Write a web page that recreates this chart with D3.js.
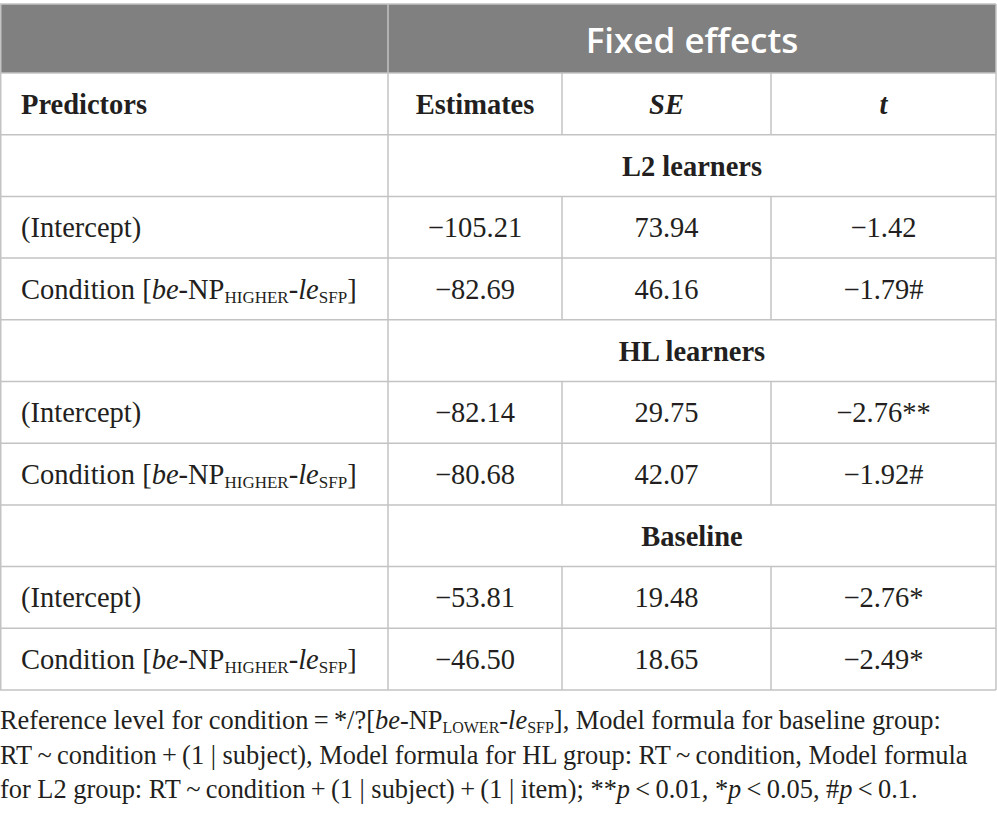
<!DOCTYPE html>
<html>
<head>
<meta charset="utf-8">
<script src="https://cdn.jsdelivr.net/npm/d3@7"></script>
<style>
  body { margin: 0; background: #fff; }
  svg { display: block; }
</style>
</head>
<body>
<svg id="chart" width="997" height="820"></svg>
<script>
// table content
const groups = ["L2 learners", "HL learners", "Baseline"];
const predictors = ["(Intercept)", "Condition"];
const estimates = [[-105.21, -82.69], [-82.14, -80.68], [-53.81, -46.50]];
const seValues = [[73.94, 46.16], [29.75, 42.07], [19.48, 18.65]];
const tValues = [[-1.42, -1.79], [-2.76, -1.92], [-2.76, -2.49]];
const tMarks = [["", "#"], ["**", "#"], ["*", "*"]];
const columnHeads = ["Predictors", "Estimates", "SE", "t"];
const headItalic = [false, false, true, true];
const spanTitle = "Fixed effects";

const conditionLabel = [
    { t: "Condition [" }, { t: "be", i: true }, { t: "-NP" }, { t: "HIGHER", sub: true },
    { t: "-" }, { t: "le", i: true }, { t: "SFP", sub: true }, { t: "]" }
];

const noteLines = [
    [{ t: "Reference level for condition\u2009=\u2009*/?[" }, { t: "be", i: true }, { t: "-NP" },
     { t: "LOWER", sub: true }, { t: "-" }, { t: "le", i: true }, { t: "SFP", sub: true },
     { t: "], Model formula for baseline group:" }],
    [{ t: "RT\u2009~\u2009condition\u2009+\u2009(1 | subject), Model formula for HL group: RT\u2009~\u2009condition, Model formula" }],
    [{ t: "for L2 group: RT\u2009~\u2009condition\u2009+\u2009(1 | subject)\u2009+\u2009(1 | item); **" }, { t: "p", i: true },
     { t: "\u2009<\u20090.01, *" }, { t: "p", i: true }, { t: "\u2009<\u20090.05, #" }, { t: "p", i: true },
     { t: "\u2009<\u20090.1." }]
];

const colEdges = [0, 388, 562, 771, 996];

const svg = d3.select("#chart");
const serif = "'Liberation Serif', 'Times New Roman', serif";
const ink = "#231f20";
const lineColor = "#c3c3c3";

// rows: 0 = title band, 1 = column heads, then group / predictor rows
let rows = [{ type: "title" }, { type: "heads" }];
groups.forEach((g, gi) => {
    rows.push({ type: "group", label: g });
    predictors.forEach((p, pi) => rows.push({ type: "data", gi: gi, pi: pi }));
});

const topY = 4, headBottom = 73, tableBottom = 690;
const scY = d3.scaleLinear().domain([1, rows.length]).range([headBottom, tableBottom]);
const rowTop = i => i === 0 ? topY : scY(i);
const rowBottom = i => i === 0 ? headBottom : scY(i + 1);
const rowMid = i => (rowTop(i) + rowBottom(i)) / 2;

const scX = d3.scaleOrdinal().domain(d3.range(colEdges.length)).range(colEdges);
const colMid = c => (scX(c) + scX(c + 1)) / 2;

const fmt = d3.format(".2f");

function richText(sel, parts, subSize, drop) {
    let shifted = false;
    parts.forEach(p => {
        const ts = sel.append("tspan").text(p.t);
        if (p.i) ts.attr("font-style", "italic");
        if (p.sub) {
            ts.attr("font-size", subSize).attr("dy", shifted ? 0 : drop);
            shifted = true;
        } else if (shifted) {
            ts.attr("dy", -drop);
            shifted = false;
        }
    });
}

// title band
svg.append("rect")
    .attr("x", scX(0)).attr("y", rowTop(0))
    .attr("width", scX(4) - scX(0)).attr("height", rowBottom(0) - rowTop(0))
    .attr("fill", "#7f807f");

svg.append("text")
    .attr("x", (scX(1) + scX(4)) / 2).attr("y", 53)
    .attr("text-anchor", "middle")
    .attr("font-family", "'Open Sans', sans-serif")
    .attr("font-weight", 600)
    .attr("font-size", 35)
    .attr("fill", "#fff")
    .text(spanTitle);

// grid lines
const grid = svg.append("g").attr("stroke", lineColor).attr("stroke-width", 1.5);

grid.selectAll(".hline")
    .data(d3.range(rows.length + 1))
    .join("line")
    .attr("x1", scX(0)).attr("x2", scX(4))
    .attr("y1", i => i === 0 ? topY : scY(i))
    .attr("y2", i => i === 0 ? topY : scY(i));

grid.append("line")
    .attr("x1", scX(0) + 0.75).attr("x2", scX(0) + 0.75)
    .attr("y1", topY).attr("y2", tableBottom);
grid.append("line")
    .attr("x1", scX(4)).attr("x2", scX(4))
    .attr("y1", topY).attr("y2", tableBottom);
grid.append("line")
    .attr("x1", scX(1)).attr("x2", scX(1))
    .attr("y1", topY).attr("y2", tableBottom);

rows.forEach((r, i) => {
    if (r.type === "heads" || r.type === "data") {
        [2, 3].forEach(c => {
            grid.append("line")
                .attr("x1", scX(c)).attr("x2", scX(c))
                .attr("y1", rowTop(i)).attr("y2", rowBottom(i));
        });
    }
});

// cell text
const body = svg.append("g").attr("font-family", serif).attr("font-size", 28.5).attr("fill", ink);

rows.forEach((r, i) => {
    const base = rowMid(i) + 10;
    if (r.type === "heads") {
        columnHeads.forEach((h, c) => {
            body.append("text")
                .attr("x", c === 0 ? 21 : colMid(c)).attr("y", base)
                .attr("text-anchor", c === 0 ? "start" : "middle")
                .attr("font-weight", "bold")
                .attr("font-style", headItalic[c] ? "italic" : "normal")
                .text(h);
        });
    } else if (r.type === "group") {
        body.append("text")
            .attr("x", (scX(1) + scX(4)) / 2).attr("y", base)
            .attr("text-anchor", "middle")
            .attr("font-weight", "bold")
            .text(r.label);
    } else if (r.type === "data") {
        const label = body.append("text").attr("x", 21).attr("y", base);
        if (r.pi === 0) label.text(predictors[0]);
        else richText(label, conditionLabel, 17, 4);

        const vals = [
            fmt(estimates[r.gi][r.pi]),
            fmt(seValues[r.gi][r.pi]),
            fmt(tValues[r.gi][r.pi]) + tMarks[r.gi][r.pi]
        ];
        vals.forEach((v, k) => {
            body.append("text")
                .attr("x", colMid(k + 1)).attr("y", base)
                .attr("text-anchor", "middle")
                .text(v);
        });
    }
});

// note under the table
const note = svg.append("g").attr("font-family", serif).attr("font-size", 26.4).attr("fill", ink);
noteLines.forEach((parts, li) => {
    const t = note.append("text").attr("x", 0).attr("y", 729 + li * 34.5);
    richText(t, parts, 16, 4);
});
</script>
</body>
</html>
